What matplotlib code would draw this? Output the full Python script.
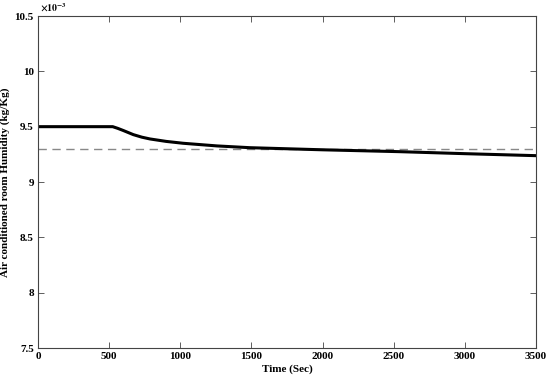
"""Air conditioned room humidity response vs. time."""

import matplotlib

matplotlib.use("Agg")
import matplotlib.pyplot as plt

# humidity response (kg/Kg)
time_s = [0, 525, 560, 600, 670, 730, 787, 900, 1020, 1258, 1490, 2000, 2544, 3000, 3500]
humidity = [9.5e-3, 9.5e-3, 9.485e-3, 9.465e-3, 9.428e-3, 9.405e-3, 9.389e-3, 9.367e-3,
            9.35e-3, 9.326e-3, 9.31e-3, 9.291e-3, 9.274e-3, 9.256e-3, 9.238e-3]
setpoint = 9.3e-3
x_ticks = [0, 500, 1000, 1500, 2000, 2500, 3000, 3500]
y_ticks = [7.5e-3, 8e-3, 8.5e-3, 9e-3, 9.5e-3, 10e-3, 10.5e-3]
y_tick_labels = ["7.5", "8", "8.5", "9", "9.5", "10", "10.5"]

plt.rcParams["font.family"] = ["Liberation Serif", "DejaVu Serif"]
plt.rcParams["font.weight"] = "bold"
plt.rcParams["font.size"] = 8
plt.rcParams["mathtext.fontset"] = "stix"

fig = plt.figure(figsize=(5.5, 3.76), dpi=100)
ax = fig.add_axes([38 / 550, 1 - 348 / 376, 498 / 550, 332 / 376])

ax.axhline(setpoint, color="#888888", lw=1.0, ls=(0, (6, 4)))
ax.plot(time_s, humidity, color="black", lw=2.2)

ax.set_xlim(0, 3500)
ax.set_ylim(7.5e-3, 10.5e-3)
ax.set_xticks(x_ticks)
ax.set_yticks(y_ticks)
ax.set_xticklabels([str(t) for t in x_ticks])
ax.set_yticklabels(y_tick_labels)
ax.text(0.004, 1.006, r"$\times10^{-3}$", transform=ax.transAxes, fontsize=7,
        ha="left", va="bottom")

ax.tick_params(direction="in", top=True, right=True, length=4, color="#444444",
               width=0.6, pad=3)
for spine in ax.spines.values():
    spine.set_color("#444444")
    spine.set_linewidth(0.8)

ax.set_xlabel("Time (Sec)", fontweight="bold", labelpad=2)
ax.set_ylabel("Air conditioned room Humidity (kg/Kg)", fontweight="bold", labelpad=3)

fig.savefig("out.png", dpi=100)
